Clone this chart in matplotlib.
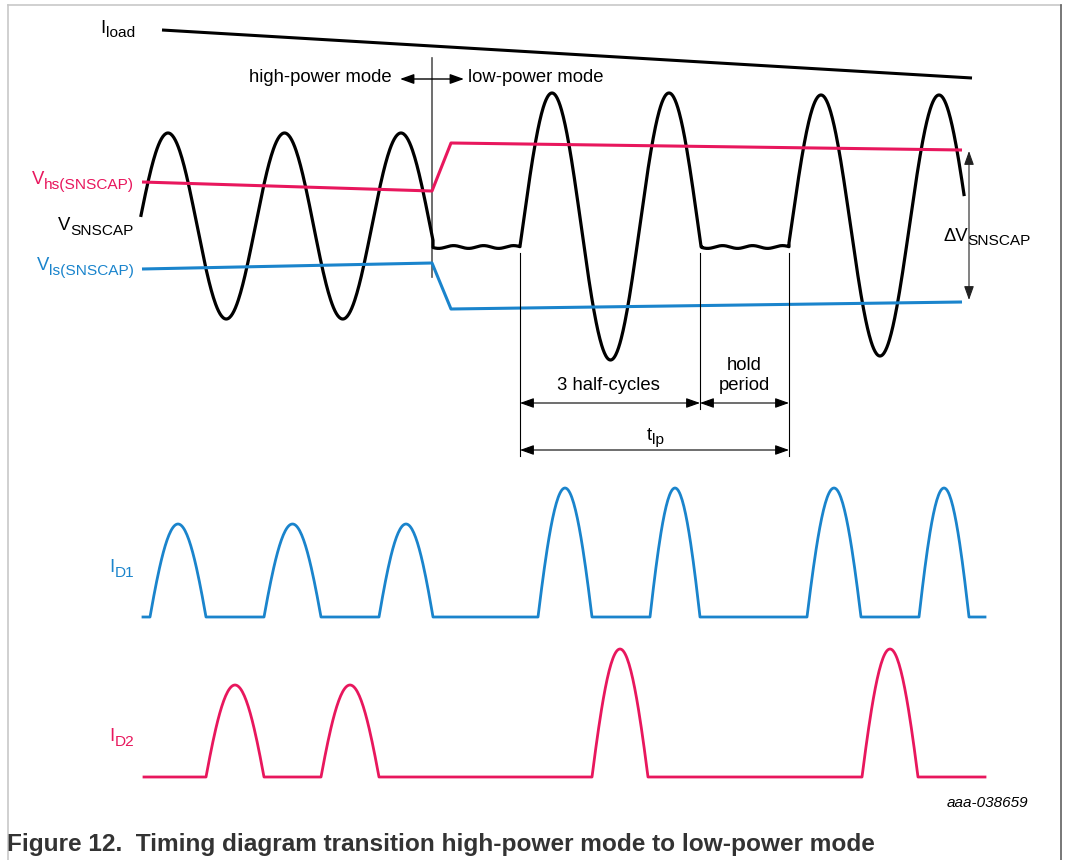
import numpy as np
import matplotlib.pyplot as plt

plt.rcParams['font.family'] = ['Liberation Sans', 'DejaVu Sans']

RED = '#e8175d'
BLUE = '#1a84cc'

# --- dane (współrzędne w pikselach obrazka) ---
# prąd obciążenia I_load (linia opadająca)
iload_x = [162, 972]
iload_y = [30, 78]

# progi V_hs i V_ls
vhs_x = [142, 432, 451, 962]
vhs_y = [182, 191, 143, 150]
vls_x = [142, 432, 451, 962]
vls_y = [269, 263, 309, 302]

# V_SNSCAP: odcinki sinusoidy (start, koniec, pierwszy szczyt, okres, szczyt, dolina)
vsn_start = [141, 520, 789]
vsn_end = [433, 702, 964]
vsn_peak = [168, 552, 821]
vsn_period = [116.5, 117, 118]
vsn_top = [133, 93, 95]
vsn_bot = [319, 360, 356]
hold_level = 247

# I_D1: impulsy (początek, koniec, poziom szczytu)
id1_base = 617
id1_span = [143, 985]
id1_start = [150, 264, 379, 538, 650, 807, 919]
id1_end = [206, 321, 433, 592, 700, 861, 969]
id1_top = [524, 524, 524, 488, 488, 488, 488]

# I_D2
id2_base = 777
id2_span = [144, 985]
id2_start = [206, 321, 592, 862]
id2_end = [264, 379, 648, 918]
id2_top = [685, 685, 649, 649]

# linie wymiarowe
dim_x = [520, 700, 789]
dim_bottom = [456, 409, 456]

FS = 13.3


def pulse_train(span, base, starts, ends, tops, th0=1.3):
    xs, ys = [span[0]], [base]
    for s, e, t in zip(starts, ends, tops):
        th = np.linspace(-th0, th0, 60)
        xs += list(s + (th + th0) / (2 * th0) * (e - s))
        ys += list(base - (base - t) * (np.cos(th) - np.cos(th0)) / (1 - np.cos(th0)))
    xs.append(span[1])
    ys.append(base)
    return xs, ys


def hold(x0, x1):
    x = np.linspace(x0, x1, 80)
    y = hold_level + 1.4 * np.sin(2 * np.pi * (x - x0) / 30 + 0.4)
    return x, y


fig = plt.figure(figsize=(10.66, 8.6), dpi=100)
ax = fig.add_axes([0, 0, 1, 1])
ax.set_xlim(0, 1066)
ax.set_ylim(860, 0)
ax.axis('off')
renderer = fig.canvas.get_renderer()


# etykieta z indeksem dolnym (większy indeks niż w mathtext)
def label(x, y, main, sub, color='black', ha='right', drop=5, bbox=None):
    t1 = ax.text(0, 0, main, fontsize=FS, color=color, va='baseline', ha='left')
    t2 = ax.text(0, 0, sub, fontsize=FS * 0.83, color=color, va='baseline', ha='left')
    w1 = t1.get_window_extent(renderer).width
    w2 = t2.get_window_extent(renderer).width
    tot = w1 + w2
    left = {'right': x - tot, 'center': x - tot / 2, 'left': x}[ha]
    t1.set_position((left, y))
    t2.set_position((left + w1, y + drop))
    if bbox is not None:
        ax.add_patch(plt.Rectangle((left - 2, y - 16), tot + 4, 24, facecolor='white',
                                   edgecolor='none', zorder=t1.get_zorder() - 0.5))


# ramka strony
ax.plot([8, 1061], [5, 5], color='#c8c8c8', lw=1.2)
ax.plot([8, 8], [5, 860], color='#c8c8c8', lw=1.2)
ax.plot([1061, 1061], [5, 860], color='#606060', lw=1.2)

# I_load
ax.plot(iload_x, iload_y, color='black', lw=2.2, solid_capstyle='butt')
label(135, 33, 'I', 'load', drop=4)

# tryby pracy
ax.text(392, 77, 'high-power mode', fontsize=FS, ha='right', va='center')
ax.text(468, 77, 'low-power mode', fontsize=FS, ha='left', va='center')
ax.annotate('', xy=(400, 79), xytext=(464, 79),
            arrowprops=dict(arrowstyle='<|-|>,head_length=0.7,head_width=0.25',
                            color='black', lw=1.0, shrinkA=0, shrinkB=0, mutation_scale=12))
ax.plot([432, 432], [58, 277], color='#555555', lw=1.2)

# V_SNSCAP
xs, ys = [], []
n = len(vsn_start)
for i in range(n):
    x = np.linspace(vsn_start[i], vsn_end[i], 400)
    c = (vsn_top[i] + vsn_bot[i]) / 2
    a = (vsn_bot[i] - vsn_top[i]) / 2
    y = c - a * np.cos(2 * np.pi * (x - vsn_peak[i]) / vsn_period[i])
    if i < n - 1:
        near = x > vsn_end[i] - 12
        y[near] = np.minimum(y[near], hold_level)
    if i > 0:
        near = x < vsn_start[i] + 12
        y[near] = np.minimum(y[near], hold_level)
    xs += list(x)
    ys += list(y)
    if i < n - 1:
        hx, hy = hold(vsn_end[i], vsn_start[i + 1])
        xs += list(hx)
        ys += list(hy)
ax.plot(xs, ys, color='black', lw=2.3, solid_joinstyle='round')

# progi
ax.plot(vhs_x, vhs_y, color=RED, lw=2.2, solid_capstyle='butt')
ax.plot(vls_x, vls_y, color=BLUE, lw=2.2, solid_capstyle='butt')
label(134, 184, 'V', 'hs(SNSCAP)', color=RED)
label(134, 230, 'V', 'SNSCAP')
label(134, 270, 'V', 'ls(SNSCAP)', color=BLUE)

# delta V
ax.annotate('', xy=(969, 151), xytext=(969, 300),
            arrowprops=dict(arrowstyle='<|-|>,head_length=0.7,head_width=0.25',
                            color='#222222', lw=0.8, shrinkA=0, shrinkB=0, mutation_scale=12))
label(943, 241, 'ΔV', 'SNSCAP', ha='left', drop=4, bbox=True)

# linie wymiarowe i strzałki
for x, yb in zip(dim_x, dim_bottom):
    ax.plot([x, x], [253, yb], color='black', lw=0.8)
arr = dict(arrowstyle='<|-|>,head_length=0.7,head_width=0.25', color='black',
           lw=0.8, shrinkA=0, shrinkB=0, mutation_scale=12)
ax.annotate('', xy=(dim_x[0], 403), xytext=(dim_x[1], 403), arrowprops=arr)
ax.annotate('', xy=(dim_x[1], 403), xytext=(dim_x[2], 403), arrowprops=arr)
ax.annotate('', xy=(dim_x[0], 450), xytext=(dim_x[2], 450), arrowprops=arr)
ax.text(608, 385, '3 half-cycles', fontsize=FS, ha='center', va='center')
ax.text(744, 365, 'hold', fontsize=FS, ha='center', va='center')
ax.text(744, 386, 'period', fontsize=FS, ha='center', va='center')
label(655, 440, 't', 'lp', ha='center', drop=4)

# prądy diod
x1, y1 = pulse_train(id1_span, id1_base, id1_start, id1_end, id1_top)
ax.plot(x1, y1, color=BLUE, lw=2.0, solid_joinstyle='round')
label(134, 572, 'I', 'D1', color=BLUE)

x2, y2 = pulse_train(id2_span, id2_base, id2_start, id2_end, id2_top)
ax.plot(x2, y2, color=RED, lw=2.0, solid_joinstyle='round')
label(134, 741, 'I', 'D2', color=RED)

ax.text(1028, 803, 'aaa-038659', fontsize=11, style='italic', ha='right', va='center')
ax.text(7, 845, 'Figure 12.  Timing diagram transition high-power mode to low-power mode',
        fontsize=17.6, weight='bold', color='#333333', ha='left', va='center')

fig.savefig('out.png', dpi=100)
